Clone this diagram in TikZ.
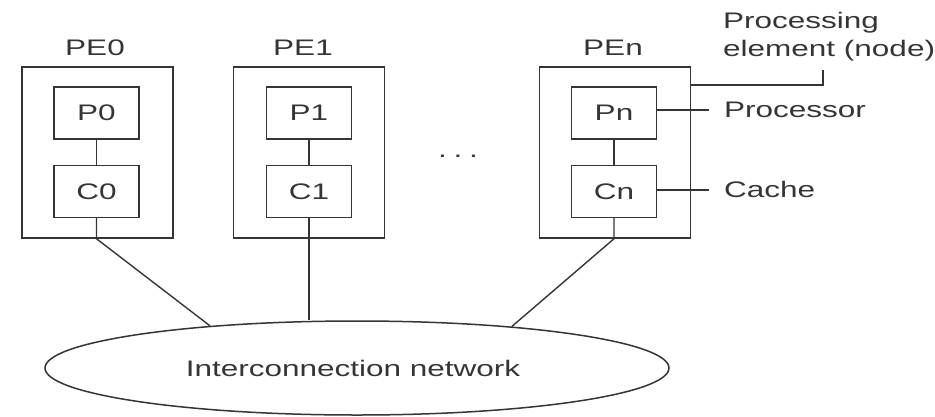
\documentclass[tikz,border=0pt]{standalone}
\usepackage{fontspec}
\setmainfont{Liberation Sans}[FakeStretch=1.4]
\usetikzlibrary{shapes.geometric}
\definecolor{ink}{HTML}{353535}
\begin{document}
\begin{tikzpicture}[x=1pt,y=-1pt,
  every node/.style={text=ink,font=\fontsize{22.5}{28}\selectfont},
  pebox/.style={draw=ink,line width=1.5pt,minimum width=151pt,minimum height=171pt,inner sep=0pt},
  unitbox/.style={draw=ink,line width=1.4pt,minimum width=85pt,minimum height=52pt,inner sep=0pt},
  wire/.style={draw=ink,line width=1.4pt},
  lbl/.style={anchor=base,inner sep=0pt}]
\useasboundingbox (0,0) rectangle (935,416);
% PE boxes
\node[pebox] (pe0) at (97.5,152.5) {};
\node[pebox] (pe1) at (309,152.5) {};
\node[pebox] (pen) at (615,152.5) {};
% processors and caches
\node[unitbox] (p0) at (96.5,113) {P0};
\node[unitbox] (c0) at (96.5,191.5) {C0};
\node[unitbox] (p1) at (309,113) {P1};
\node[unitbox] (c1) at (309,191.5) {C1};
\node[unitbox] (pn) at (614,113) {Pn};
\node[unitbox] (cn) at (614,191.5) {Cn};
% labels
\node[lbl] (l0) at (95,55) {PE0};
\node[lbl] (l1) at (303,55) {PE1};
\node[lbl] (ln) at (613,55) {PEn};
\node[lbl] (dots) at (458,157) {.\hspace{0.3em}.\hspace{0.3em}.};
% network
\node[draw=ink,line width=1.5pt,ellipse,minimum width=624pt,minimum height=94pt,inner sep=0pt] (net) at (357,368) {};
\node[lbl] (netlbl) at (353,376) {Interconnection network};
% internal wires
\draw[wire] (p0) -- (c0);
\draw[wire] (p1) -- (c1);
\draw[wire] (pn) -- (cn);
% to network
\draw[wire] (c0.south) -- (c0.south |- pe0.south) -- (net.164.9);
\draw[wire] (c1.south) -- (c1.south |- net.north);
\draw[wire] (cn.south) -- (cn.south |- pen.south) -- (net.15.5);
% annotations
\node[anchor=north west,align=left,inner sep=0pt] (pelab) at (723,12) {Processing\\element (node)};
\node[anchor=base west,inner sep=0pt] (proc) at (724,117) {Processor};
\node[anchor=base west,inner sep=0pt] (cache) at (724,197) {Cache};
\coordinate (peend) at (823,70);
\coordinate (pejoint) at (823,85);
\coordinate (procend) at (709,110);
\coordinate (cacheend) at (709,190);
\draw[wire] (peend) -- (pejoint) -- (pen.east |- pejoint);
\draw[wire] (pn.east |- procend) -- (procend);
\draw[wire] (cn.east |- cacheend) -- (cacheend);
\end{tikzpicture}
\end{document}
